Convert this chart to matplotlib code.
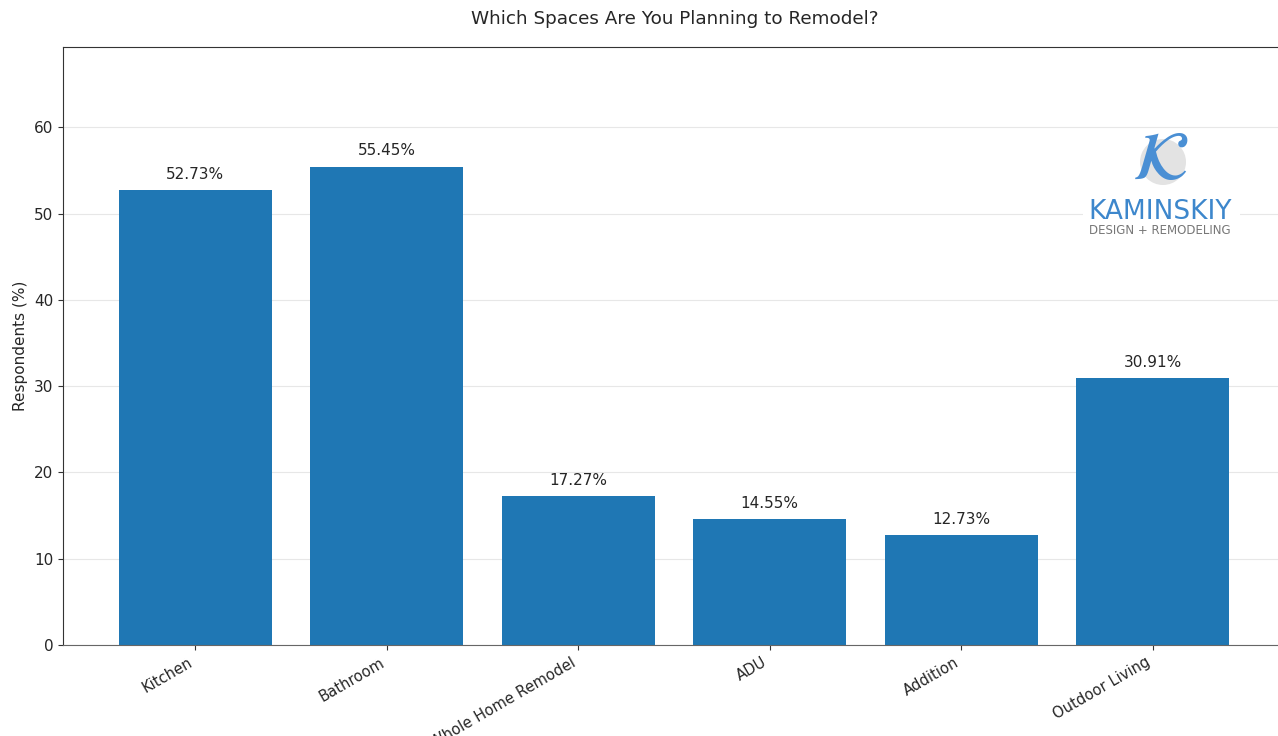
import matplotlib
matplotlib.use("Agg")
import matplotlib.pyplot as plt
from matplotlib.patches import Rectangle, Circle

categories = ["Kitchen", "Bathroom", "Whole Home Remodel", "ADU", "Addition", "Outdoor Living"]
percentages = [52.73, 55.45, 17.27, 14.55, 12.73, 30.91]

W, H, DPI = 1278, 736, 100
TEXT = "#262626"
plt.rcParams["text.color"] = TEXT
plt.rcParams["axes.labelcolor"] = TEXT
plt.rcParams["xtick.labelcolor"] = TEXT
plt.rcParams["ytick.labelcolor"] = TEXT

fig = plt.figure(figsize=(W / DPI, H / DPI), dpi=DPI)

def px(x, y):
    return x / W, 1 - y / H

# the plot area reaches slightly past the right border of the canvas
ax = fig.add_axes([63 / W, 1 - 645 / H, (1285 - 63) / W, (645 - 47) / H])

bars = ax.bar(categories, percentages, width=0.8, color="#1f77b4", zorder=2)
ax.set_ylim(0, max(percentages) * 1.25)
ax.set_axisbelow(True)
ax.yaxis.grid(True, color="#b0b0b0", alpha=0.3, linewidth=0.8)
for s in ax.spines.values():
    s.set_color("#333333")
ax.spines["bottom"].set_color("#666666")
ax.set_ylabel("Respondents (%)", fontsize=11)
ax.tick_params(axis="y", labelsize=11, color="#333333")
ax.tick_params(axis="x", labelsize=10.6, color="#333333")
plt.setp(ax.get_xticklabels(), rotation=30, ha="right")

for rect, val in zip(bars, percentages):
    ax.annotate(f"{val:.2f}%", xy=(rect.get_x() + rect.get_width() / 2, val),
                xytext=(0, 6), textcoords="offset points",
                ha="center", va="bottom", fontsize=11)

fig.text(*px(675, 19), "Which Spaces Are You Planning to Remodel?",
         ha="center", va="center", fontsize=13.2)

# company logo
x0, y0 = px(1083, 238)
x1, y1 = px(1240, 133)
fig.add_artist(Rectangle((x0, y0), x1 - x0, y1 - y0, transform=fig.transFigure,
                         facecolor="white", edgecolor="none", zorder=2))
fig.add_artist(Circle((1163 / DPI, (H - 162) / DPI), 23 / DPI,
                      transform=fig.dpi_scale_trans,
                      facecolor="#e3e3e3", edgecolor="none", zorder=3))
fig.text(*px(1160, 160), r"$\mathcal{K}$", math_fontfamily="stix",
         ha="center", va="center", fontsize=50, color="#4a8fd4", zorder=4)
fig.text(*px(1160, 212), "KAMINSKIY", ha="center", va="center",
         fontsize=19, color="#3d87cc", zorder=4)
fig.text(*px(1160, 231), "DESIGN + REMODELING", ha="center", va="center",
         fontsize=8.5, color="#777777", zorder=4)

fig.savefig("out.png", dpi=DPI)
